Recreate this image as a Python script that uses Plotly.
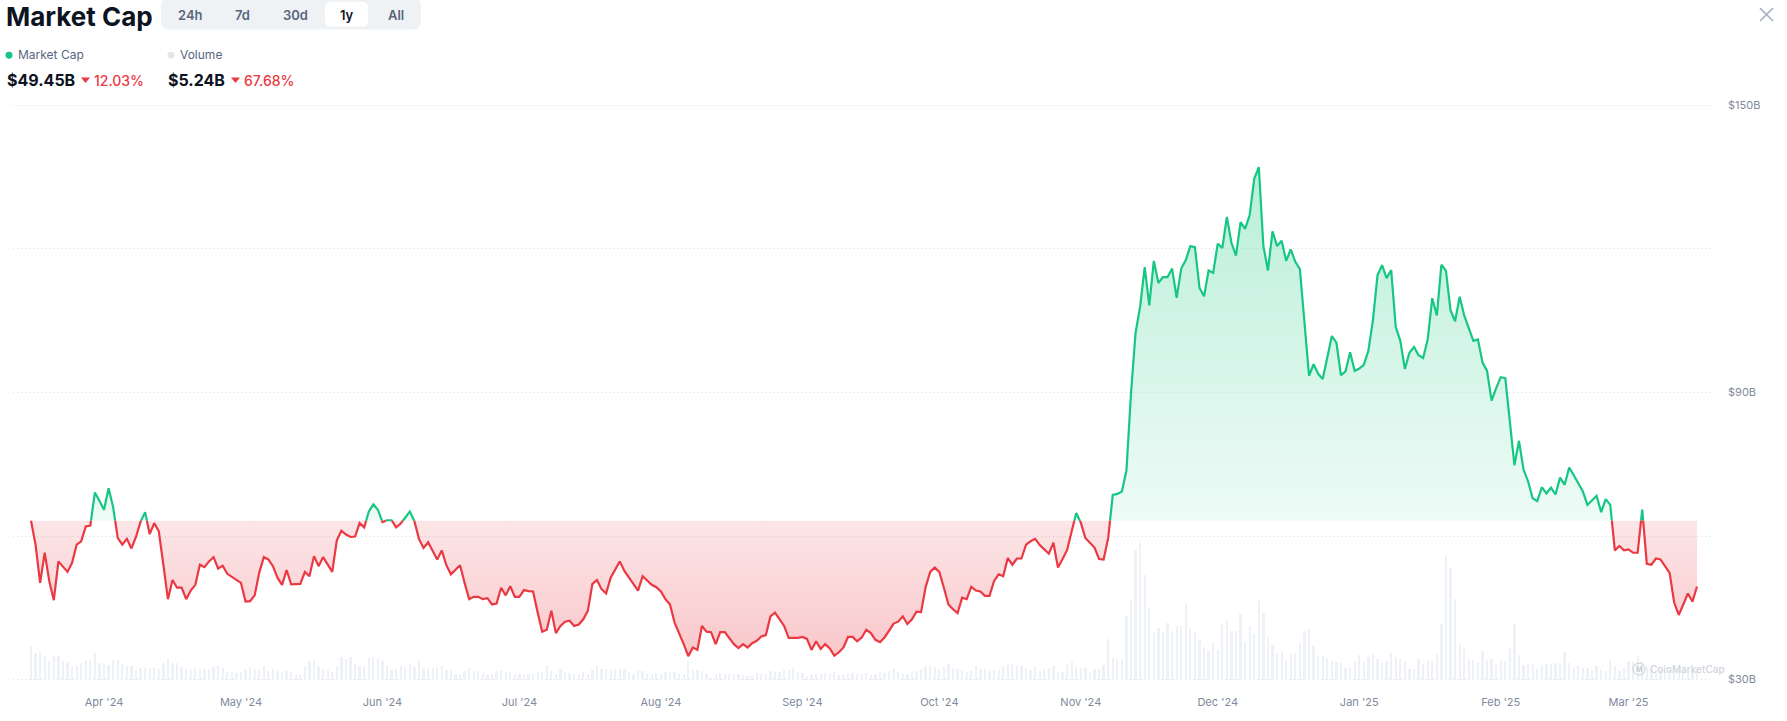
import numpy as np
import pandas as pd
import plotly.graph_objects as go

# ---------------- data ----------------
START_DATE = "2024-03-16"

# daily market cap, $B
market_cap = [
    63.2, 58.2, 50.2, 56.5, 50.6, 46.6, 54.7, 53.7, 52.5, 54.4,
    58.2, 58.9, 62.0, 62.2, 69.1, 67.3, 65.5, 70.0, 66.0, 59.6,
    58.2, 59.4, 57.4, 59.8, 63.0, 65.0, 60.4, 62.7, 61.0, 54.0,
    46.8, 50.8, 49.2, 49.2, 46.8, 48.6, 49.8, 54.0, 53.5, 54.7,
    55.6, 53.2, 53.8, 52.1, 51.5, 50.8, 50.2, 46.3, 46.4, 47.6,
    52.3, 55.6, 55.1, 53.7, 51.3, 49.8, 52.9, 49.9, 50.0, 50.0,
    52.5, 51.6, 55.8, 53.7, 55.6, 54.0, 52.5, 59.1, 61.1, 60.3,
    59.8, 59.9, 62.7, 61.8,
    65.1, 66.6, 65.5, 62.9, 63.3, 63.3, 61.8, 62.6, 63.9, 65.1,
    63.1, 59.4, 57.5, 58.7, 57.0, 55.1, 57.0, 53.9, 52.0, 52.9,
    53.9, 50.2, 46.8, 47.3, 47.3, 46.8, 47.0, 45.7, 45.9, 49.2,
    47.6, 49.5, 47.3, 47.3, 48.7, 48.5, 48.4, 44.0, 40.0, 40.4,
    44.4, 39.7, 41.2, 42.1, 42.3, 41.2, 41.5, 42.6, 44.4, 50.0,
    50.8, 48.9, 48.0, 51.3, 53.0, 54.7, 52.7, 51.3, 49.9, 48.6,
    51.6, 50.6, 49.8, 49.3, 48.4, 46.8, 45.7, 41.9, 39.7, 37.4,
    34.9, 36.7, 36.2, 41.2, 40.0,
    39.9, 37.4, 39.9, 39.9, 38.7, 37.4, 36.6, 37.4, 36.7, 37.6,
    38.1, 39.0, 39.3, 43.2, 44.0, 42.6, 41.2, 38.7, 38.7, 38.7,
    38.9, 38.5, 36.2, 38.0, 36.4, 37.4, 36.5, 35.0, 35.7, 36.7,
    38.9, 38.9, 38.0, 38.8, 40.4, 39.7, 38.3, 37.8, 38.8, 40.2,
    41.7, 42.1, 43.2, 41.6, 42.6, 44.2, 44.1, 49.3, 52.5, 53.4,
    52.5, 49.2, 45.7, 44.7, 43.9, 47.1, 46.8, 49.4, 48.6, 48.4,
    47.5, 47.5, 50.6, 52.0, 51.6, 55.4, 54.0, 55.3, 55.3, 58.2,
    58.9, 59.4, 58.1, 57.2,
    56.3, 58.6, 53.4, 55.2, 57.1, 61.0, 64.8, 62.8, 59.6, 58.7,
    57.6, 55.2, 55.1, 59.6, 68.6, 68.8, 69.3, 73.7, 89.9, 102.5,
    108.0, 116.2, 108.2, 117.5, 112.9, 114.1, 114.1, 115.9, 109.8, 115.9,
    117.7, 120.6, 120.4, 111.9, 110.1, 115.5, 115.0, 121.1, 120.2, 126.7,
    121.3, 118.6, 125.6, 124.2, 127.1, 134.7, 137.1, 120.6, 115.5, 123.7,
    120.6, 121.7, 117.5, 119.9, 117.3, 115.8, 104.7, 93.5, 95.9, 93.9,
    92.8, 97.5, 101.8, 100.4, 93.6, 94.4, 98.4, 94.5, 95.0, 95.8,
    98.7, 105.1, 114.5, 116.6,
    113.9, 115.6, 103.7, 100.8, 94.9, 98.3, 99.5, 97.8, 97.2, 101.1,
    109.7, 106.1, 116.7, 115.4, 107.2, 104.9, 110.0, 106.1, 103.5, 100.8,
    101.1, 96.3, 94.5, 88.3, 90.9, 93.2, 93.0, 84.1, 74.8, 79.9,
    73.9, 71.4, 67.9, 67.3, 70.2, 68.9, 70.1, 68.7, 72.2, 70.7,
    74.3, 72.7, 71.0, 69.3, 66.5, 67.5, 68.4, 65.0, 67.7, 66.5,
    57.0, 57.9, 57.0, 57.2, 56.5, 56.5, 65.5, 54.2, 54.0, 55.3,
    55.1, 53.8, 52.3, 46.1, 43.5, 45.7, 48.0, 46.3, 49.45,
]

# daily volume, $B
volume = [
    6.83, 5.3, 5.5, 4.7, 3.7, 5.03, 4.7, 3.83, 3.63, 2.7,
    2.7, 3.43, 3.7, 3.83, 5.3, 3.3, 3.43, 3.03, 3.97, 3.97,
    3.43, 2.77, 2.63, 1.83, 2.3, 2.3, 2.1, 2.3, 2.1, 3.43,
    4.23, 3.43, 3.3, 2.5, 2.17, 1.97, 2.3, 2.1, 2.17, 2.17,
    2.5, 2.83, 2.3, 1.7, 1.5, 1.3, 1.43, 1.9, 2.43, 2.1,
    2.1, 2.63, 1.7, 2.03, 1.7, 1.43, 1.63, 1.57, 0.9, 0.83,
    2.83, 3.83, 3.83, 2.63, 2.1, 1.9, 1.5, 2.83, 4.63, 4.17,
    4.63, 3.17, 2.83,
    2.63, 4.3, 4.63, 4.3, 3.83, 2.83, 1.83, 2.03, 2.83, 2.3,
    3.3, 2.5, 3.83, 2.3, 2.03, 2.3, 2.5, 2.63, 1.83, 1.83,
    1.03, 1.03, 1.63, 2.3, 1.63, 1.7, 1.3, 0.83, 1.03, 1.7,
    1.83, 1.63, 1.37, 1.03, 1.17, 0.83, 1.17, 1.03, 1.5, 1.7,
    2.63, 1.7, 1.17, 2.1, 1.37, 1.3, 1.03, 1.03, 1.5, 1.17,
    1.83, 2.83, 2.1, 2.1, 2.1, 2.1, 2.1, 2.1, 1.5, 1.17,
    1.83, 1.7, 1.17, 1.03, 1.3, 1.03, 1.5, 1.7, 1.5, 1.17,
    1.17, 3.83, 1.83, 1.97, 1.7,
    1.17, 0.37, 1.03, 1.3, 1.03, 1.03, 1.03, 1.03, 0.83, 0.63,
    0.83, 1.3, 1.03, 1.17, 1.7, 1.5, 1.5, 1.83, 1.83, 2.23,
    1.5, 1.3, 0.7, 0.83, 1.03, 1.17, 1.3, 1.03, 1.5, 0.83,
    0.83, 1.3, 1.3, 1.17, 1.03, 1.3, 0.83, 1.03, 1.5, 1.3,
    1.7, 2.03, 1.7, 1.03, 1.17, 1.7, 1.7, 2.1, 2.63, 2.83,
    2.5, 2.17, 2.5, 3.17, 2.3, 2.1, 1.83, 1.43, 1.7, 2.83,
    2.17, 2.1, 1.7, 1.83, 1.83, 2.83, 3.17, 3.17, 2.63, 2.83,
    2.1, 1.97, 2.5, 1.7, 2.1,
    2.41, 2.76, 1.72, 1.58, 2.97, 3.46, 2.62, 2.27, 2.41, 1.37,
    2.2, 2.2, 2.9, 8.19, 4.36, 4.01, 4.15, 12.85, 15.98, 26.06,
    27.45, 20.98, 14.59, 9.37, 10.41, 9.72, 11.46, 9.72, 10.76, 10.76,
    15.29, 10.41, 9.58, 7.98, 6.59, 5.68, 7.64, 5.89, 10.97, 11.81,
    9.72, 9.72, 13.2, 7.64, 10.76, 9.16, 15.98, 13.34, 8.47, 6.94,
    5.2, 5.55, 3.81, 5.2, 5.34, 7.43, 9.72, 10.28, 6.73, 4.85,
    4.85, 4.36, 3.81, 3.6, 3.25, 2.27, 2.27, 3.6, 4.85, 3.6,
    4.64, 5.06, 4.15,
    3.3, 3.83, 5.3, 4.63, 4.17, 3.7, 2.17, 2.17, 4.17, 3.17,
    3.97, 3.7, 5.17, 11.17, 24.83, 22.37, 16.3, 7.03, 6.17, 4.17,
    3.97, 3.5, 5.83, 3.97, 4.17, 3.03, 3.7, 3.7, 6.37, 11.17,
    5.03, 3.03, 3.17, 3.03, 2.03, 3.03, 3.17, 3.17, 3.3, 3.3,
    5.63, 3.3, 2.5, 2.63, 2.37, 2.3, 1.83, 2.83, 1.97, 1.63,
    3.83, 2.83, 1.63, 2.3, 3.83, 3.83, 4.83, 3.83, 2.5, 2.17,
    1.5, 1.83, 1.63, 1.83, 2.37, 1.83, 1.83, 1.63, 1.83, 1.9,
]

y_tick_vals = [30, 60, 90, 120, 150]
y_tick_text = ["$30B", "", "$90B", "", "$150B"]
tabs = ["24h", "7d", "30d", "1y", "All"]
legend_names = ["Market Cap", "Volume"]
headline_values = ["$49.45B", "$5.24B"]
headline_changes = ["12.03%", "67.68%"]

# ---------------- styling ----------------
GREEN = "#16c784"
RED = "#ea3943"
DARK = "#0d1421"
GRAY = "#58667e"
AXIS_GRAY = "#808a9d"
FONT = "Inter"

W, H = 1787, 721
PL, PR, PT, PB = 13, 1711, 96, 691   # plot area in pixels


def fx(px):
    return (px - PL) / (PR - PL)


def fy(py):
    return (PB - py) / (PB - PT)


BASE = market_cap[0]
start = pd.Timestamp(START_DATE)
n = len(market_cap)
day_idx = np.arange(n, dtype=float)
dates_daily = start + pd.to_timedelta(day_idx, unit="D")

# split line at baseline crossings
vals = np.array(market_cap, dtype=float)
xs, ys = [day_idx[0]], [vals[0]]
for i in range(1, n):
    a, b = vals[i - 1] - BASE, vals[i] - BASE
    if a * b < 0:
        t = a / (a - b)
        xs.append(day_idx[i - 1] + t)
        ys.append(BASE)
    xs.append(day_idx[i])
    ys.append(vals[i])
xs = np.array(xs)
ys = np.array(ys)
dates = start + pd.to_timedelta(xs, unit="D")
above = np.maximum(ys, BASE)
below = np.minimum(ys, BASE)
green_line = np.where(ys >= BASE, ys, np.nan)
red_line = np.where(ys <= BASE, ys, np.nan)
base_arr = np.full(len(ys), BASE)

fig = go.Figure()

# volume bars (primary, hidden axis -> drawn below)
fig.add_trace(go.Bar(
    x=dates_daily, y=volume, marker_color="#eef1f5", marker_line_width=0,
    width=0.5 * 86400000, yaxis="y", hoverinfo="skip", showlegend=False,
))

# fills
fig.add_trace(go.Scatter(x=dates, y=base_arr, mode="lines", line=dict(width=0),
                         yaxis="y2", hoverinfo="skip", showlegend=False))
fig.add_trace(go.Scatter(
    x=dates, y=above, mode="lines", line=dict(width=0), fill="tonexty",
    fillgradient=dict(type="vertical", start=BASE, stop=max(market_cap),
                      colorscale=[[0, "rgba(22,199,132,0.07)"], [1, "rgba(22,199,132,0.30)"]]),
    yaxis="y2", hoverinfo="skip", showlegend=False))
fig.add_trace(go.Scatter(x=dates, y=base_arr, mode="lines", line=dict(width=0),
                         yaxis="y2", hoverinfo="skip", showlegend=False))
fig.add_trace(go.Scatter(
    x=dates, y=below, mode="lines", line=dict(width=0), fill="tonexty",
    fillgradient=dict(type="vertical", start=32, stop=BASE,
                      colorscale=[[0, "rgba(234,57,67,0.30)"], [1, "rgba(234,57,67,0.13)"]]),
    yaxis="y2", hoverinfo="skip", showlegend=False))

# lines
fig.add_trace(go.Scatter(x=dates, y=green_line, mode="lines",
                         line=dict(color=GREEN, width=2.2), connectgaps=False,
                         yaxis="y2", hoverinfo="skip", showlegend=False))
fig.add_trace(go.Scatter(x=dates, y=red_line, mode="lines",
                         line=dict(color=RED, width=2.2), connectgaps=False,
                         yaxis="y2", hoverinfo="skip", showlegend=False))

# axis ranges
px_per_day = (1697 - 31) / (n - 1)
x0 = start + pd.to_timedelta((PL - 31) / px_per_day, unit="D")
x1 = start + pd.to_timedelta((n - 1) + (PR - 1697) / px_per_day, unit="D")
Y150, Y30 = 105.5, 683.5
px_per_b = (Y30 - Y150) / 120.0
y2_top = 150 + (Y150 - PT) / px_per_b
y2_bot = 30 - (PB - Y30) / px_per_b
vol_px = 5.0   # px per $1B of volume
v_bot = -(PB - Y30) / vol_px
v_top = (Y30 - PT) / vol_px

annotations = []
shapes = []


def text(px, py, s, size, color, weight=400, anchor="left"):
    annotations.append(dict(
        x=fx(px), y=fy(py), xref="paper", yref="paper", text=s, showarrow=False,
        xanchor=anchor, yanchor="middle",
        font=dict(family=FONT, size=size, color=color, weight=weight)))


def rrect(x0p, y0p, x1p, y1p, r, color):
    # rounded rectangle in pixel coords -> paper path
    def P(x, y):
        return f"{fx(x):.6f},{fy(y):.6f}"
    path = (f"M {P(x0p + r, y0p)} L {P(x1p - r, y0p)} Q {P(x1p, y0p)} {P(x1p, y0p + r)} "
            f"L {P(x1p, y1p - r)} Q {P(x1p, y1p)} {P(x1p - r, y1p)} "
            f"L {P(x0p + r, y1p)} Q {P(x0p, y1p)} {P(x0p, y1p - r)} "
            f"L {P(x0p, y0p + r)} Q {P(x0p, y0p)} {P(x0p + r, y0p)} Z")
    shapes.append(dict(type="path", xref="paper", yref="paper", path=path,
                       fillcolor=color, line=dict(width=0), layer="above"))


# header
text(4, 16, "Market Cap", 26, DARK, 700)
rrect(161, -2, 421, 29, 8, "#eff2f5")
rrect(325, 1, 368, 26, 6, "#ffffff")
tab_x = [190.5, 243, 295.5, 347, 396]
for tx, lab in zip(tab_x, tabs):
    text(tx, 14, lab, 13, DARK if lab == "1y" else GRAY, 600, anchor="center")

# legend row
for cx, col, name in [(9, GREEN, legend_names[0]), (171, "#e3e7ec", legend_names[1])]:
    shapes.append(dict(type="circle", xref="paper", yref="paper",
                       x0=fx(cx - 3.5), x1=fx(cx + 3.5), y0=fy(55 + 3.5), y1=fy(55 - 3.5),
                       fillcolor=col, line=dict(width=0)))
    text(cx + 7, 54, name, 12, GRAY, 400)

# values row
for vx, tri_x, cx, val, chg in [(5, 81, 92, headline_values[0], headline_changes[0]),
                               (166, 231, 242, headline_values[1], headline_changes[1])]:
    text(vx, 80, val, 16, DARK, 700)
    path = f"M {fx(tri_x):.6f},{fy(77.5):.6f} L {fx(tri_x + 9):.6f},{fy(77.5):.6f} L {fx(tri_x + 4.5):.6f},{fy(83):.6f} Z"
    shapes.append(dict(type="path", xref="paper", yref="paper", path=path,
                       fillcolor=RED, line=dict(width=0)))
    text(cx, 80, chg, 14, RED, 500)

# close icon
for (ax, ay, bx, by) in [(1760, 7.5, 1773, 20.5), (1760, 20.5, 1773, 7.5)]:
    shapes.append(dict(type="line", xref="paper", yref="paper",
                       x0=fx(ax), y0=fy(ay), x1=fx(bx), y1=fy(by),
                       line=dict(color="#a6b0c3", width=1.6)))

# watermark
shapes.append(dict(type="circle", xref="paper", yref="paper",
                   x0=fx(1633), x1=fx(1645), y0=fy(679), y1=fy(667),
                   line=dict(color="#d3d7de", width=1.2), fillcolor="rgba(0,0,0,0)"))
text(1639, 673, "M", 7, "#c8cdd5", 700, anchor="center")
text(1648, 673, "CoinMarketCap", 10, "#cfd4db", 500)

fig.update_layout(
    width=W, height=H,
    margin=dict(l=PL, r=W - PR, t=PT, b=H - PB, pad=0),
    paper_bgcolor="white", plot_bgcolor="white",
    showlegend=False, hovermode=False, bargap=0,
    font=dict(family=FONT, color=AXIS_GRAY),
    xaxis=dict(type="date", range=[x0, x1], showgrid=False, zeroline=False,
               showline=False, ticks="", tickformat="%b '%y", dtick="M1",
               tick0="2024-04-01", tickfont=dict(family=FONT, size=11, color=AXIS_GRAY),
               ticklabelstandoff=7, fixedrange=True),
    yaxis=dict(range=[v_bot, v_top], visible=False, showgrid=False, zeroline=False,
               fixedrange=True),
    yaxis2=dict(range=[y2_bot, y2_top], overlaying="y", side="right",
                tickvals=y_tick_vals, ticktext=y_tick_text, showgrid=True,
                gridcolor="#dadee4", griddash="1px,3px", gridwidth=1, zeroline=False,
                showline=False, ticks="", ticklabelstandoff=16,
                tickfont=dict(family=FONT, size=11, color=AXIS_GRAY), fixedrange=True),
    annotations=annotations, shapes=shapes,
)

fig.write_html(
    "out.html",
    config={"displayModeBar": False, "staticPlot": True},
    post_script="document.body.style.margin='0';document.body.style.overflow='hidden';",
)
